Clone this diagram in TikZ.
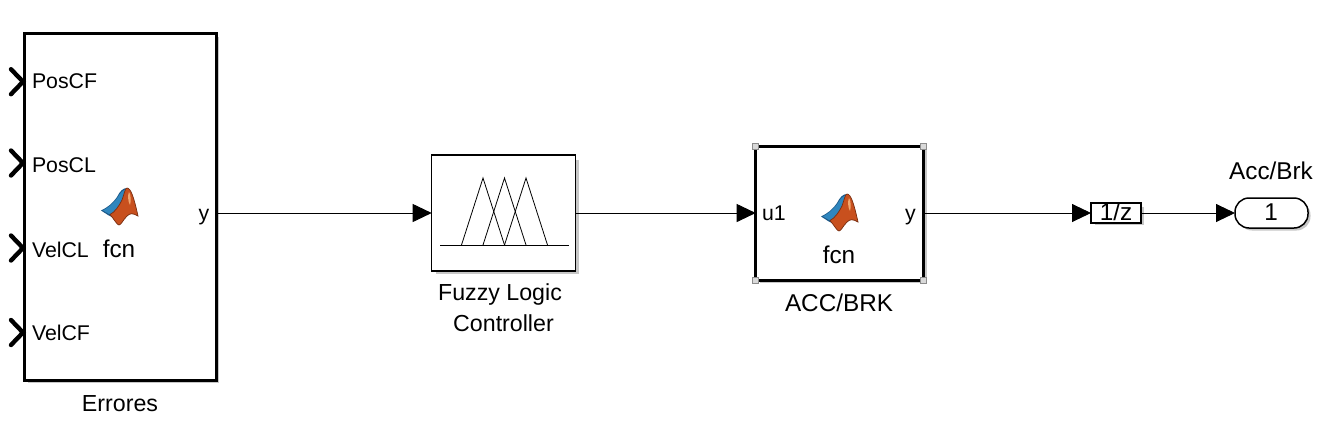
\documentclass[tikz,border=0pt]{standalone}
\usepackage{fontspec}
\setmainfont{Liberation Sans}
\usetikzlibrary{arrows.meta}
\definecolor{logoorange}{HTML}{C8501E}
\definecolor{logoblue}{HTML}{2F86BE}
\definecolor{logodark}{HTML}{7A2E10}
\definecolor{logonavy}{HTML}{1C5A8A}
\tikzset{
  x=1pt,y=-1pt,
  every node/.style={inner sep=0pt,outer sep=0pt,font=\fontsize{21.3}{25}\selectfont},
  lbl/.style={anchor=base},
  lbll/.style={anchor=base west},
  big/.style={font=\fontsize{24.3}{28}\selectfont},
  mid/.style={font=\fontsize{23.2}{27}\selectfont},
  blockthick/.style={draw=black,line width=3pt,fill=white,anchor=north west},
  blockthin/.style={draw=black,line width=1.5pt,fill=white,anchor=north west},
  shade/.style={fill=black!22,draw=none},
  wire/.style={draw=black,line width=0.9pt,-{Triangle[length=19pt,width=18pt,fill=black]}},
  chev/.style={draw=black,line width=4.4pt,line cap=round,line join=miter},
  handle/.style={draw=black!45,line width=1pt,fill=black!15},
  mf/.style={draw=black,line width=0.8pt},
  logo/.pic={
    \fill[logonavy] (-19,2.5) .. controls (-12,-1) and (-8,-4) .. (-3,-11) .. controls (0,-17) and (3,-20) .. (7,-20) -- (5,-6) -- (-8,9) -- (-12,7) -- cycle;
    \fill[logoblue] (-17,2.5) .. controls (-11,-1) and (-7,-4) .. (-2,-11) .. controls (0,-15) and (3,-18) .. (6,-18.5) -- (3,-6) -- (-8,6.5) -- (-11,6) -- cycle;
    \fill[logoorange,draw=logodark,line width=0.7pt] (7,-20) .. controls (11,-20) and (14,-10) .. (18,8) .. controls (13,5) and (10,5) .. (7,8) .. controls (3,12) and (1,17) .. (-1,17) .. controls (-3,17) and (-6,11) .. (-10,6.5) .. controls (-5,4) and (-1,-2) .. (2,-8) .. controls (4,-13) and (5,-20) .. (7,-20) -- cycle;
    \fill[orange!45!white,opacity=.75] (9,-16) .. controls (11,-14) and (11,-6) .. (10,-3) .. controls (8,-6) and (7.5,-13) .. (9,-16) -- cycle;
  }
}
\newcommand{\portchev}[1]{\draw[chev] (11,#1-12.5) -- (23,#1) -- (11,#1+12.5);}
\begin{document}
\begin{tikzpicture}
\useasboundingbox (0,0) rectangle (1327,445);
\fill[white] (0,0) rectangle (1327,445);

% shadows
\fill[shade] (28,37) rectangle (219,383);
\fill[shade] (436,160) rectangle (578.5,273.5);
\fill[shade] (760,150) rectangle (926.5,283);
\fill[shade] (1095,207) rectangle (1143.5,225);
\fill[shade,rounded corners=14pt] (1238,201) rectangle (1310.5,230.5);

% blocks
\node[blockthick,minimum width=192pt,minimum height=346.5pt] (err) at (24,33.5) {};
\node[blockthin,minimum width=144pt,minimum height=116pt] (fuzzy) at (431.7,155) {};
\node[blockthick,minimum width=167.6pt,minimum height=134pt] (acc) at (755.7,146) {};
\node[blockthin,minimum width=50pt,minimum height=20pt] (delay) at (1091,203) {};
\node[draw=black,line width=1.5pt,fill=white,rounded corners=14pt,anchor=north west,minimum width=73pt,minimum height=30pt] (out) at (1235,198) {};

% input chevrons of Errores
\portchev{81.7}
\portchev{163}
\portchev{248}
\portchev{332.5}

% selection handles
\foreach \hx/\hy in {755.7/146,923.3/146,755.7/280,923.3/280}
  \draw[handle] (\hx-3,\hy-3) rectangle (\hx+3,\hy+3);

% connectors
\draw[wire] (err.east |- fuzzy.west) -- (fuzzy.west);
\draw[wire] (fuzzy.east) -- (acc.west);
\draw[wire] (acc.east) -- (delay.west);
\draw[wire] (delay.east) -- (out.west);

% fuzzy membership functions
\draw[mf] (440,245) -- (569,245);
\draw[mf] (461.5,245) -- (483,178) -- (504.5,245);
\draw[mf] (483,245) -- (504.5,178) -- (526,245);
\draw[mf] (504.5,245) -- (526,178) -- (547.5,245);

% logos
\pic at (120,208) {logo};
\pic at (840,214) {logo};

% texts
\node[lbll] (t1) at (32,88.8) {PosCF};
\node[lbll] (t2) at (32,172.7) {PosCL};
\node[lbll] (t3) at (32,257) {VelCL};
\node[lbll] (t4) at (32,340.7) {VelCF};
\node[lbl,big] (t5) at (119,257.2) {fcn};
\node[lbl] (t6) at (204,220.5) {y};
\node[lbl,mid] (t7) at (120,411) {Errores};
\node[lbl,mid] (t8) at (500,300) {Fuzzy Logic};
\node[lbl,mid] (t9) at (503.5,331.5) {Controller};
\node[lbll] (t10) at (762,220.7) {u1};
\node[lbl] (t11) at (910.5,220.5) {y};
\node[lbl,big] (t12) at (839,263.2) {fcn};
\node[lbl,big] (t13) at (839,311) {ACC/BRK};
\node[lbl,big] (t14) at (1116,220) {1/z};
\node[lbl,big] (t15) at (1271,179.5) {Acc/Brk};
\node[lbl,big] (t16) at (1271,220) {1};
\end{tikzpicture}
\end{document}
